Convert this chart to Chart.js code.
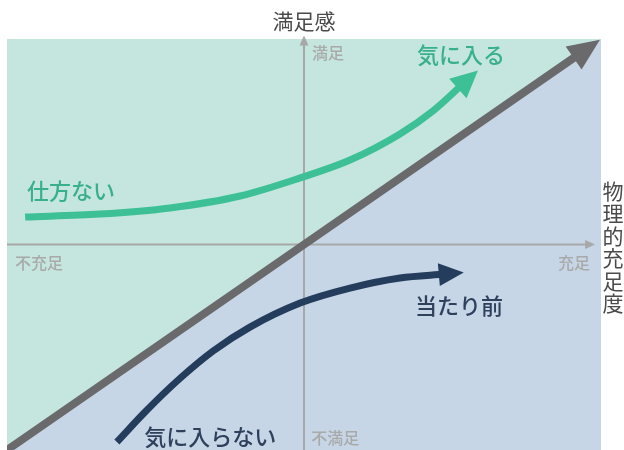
<!DOCTYPE html>
<html>
<head>
<meta charset="utf-8">
<script src="https://cdn.jsdelivr.net/npm/chart.js@4"></script>
<style>
  body { margin: 0; background: #fff; }
  canvas { display: block; }
</style>
</head>
<body>
<canvas id="kano" width="624" height="450"></canvas>
<script>
// 境界線（背景の塗り分け）
let edgeX = [-1, 1];
let edgeY = [-1, 1];

// 物理的充足度 = 満足感 の対角線
let diagX = [-1, 0.93];
let diagY = [-1, 0.93];

// 気に入る / 仕方ない
let attractX = [-0.939, -0.687, -0.451, -0.215, -0.013, 0.155, 0.323, 0.434, 0.535];
let attractY = [0.134, 0.148, 0.178, 0.236, 0.324, 0.411, 0.538, 0.65, 0.781];

// 当たり前 / 気に入らない
let mustX = [-0.63, -0.532, -0.418, -0.306, -0.182, -0.013, 0.155, 0.323, 0.475];
let mustY = [-0.961, -0.81, -0.652, -0.518, -0.402, -0.285, -0.212, -0.163, -0.144];

// 軸
let hAxisX = [-1, 0.955];
let hAxisY = [0, 0];
let vAxisX = [0, 0];
let vAxisY = [-1, 0.98];

let labels = [
    { text: '気に入る', x: 0.529, y: 0.922, align: 'center', color: '#38b08c', size: 22 },
    { text: '仕方ない', x: -0.933, y: 0.26, align: 'left', color: '#38b08c', size: 22 },
    { text: '当たり前', x: 0.522, y: -0.299, align: 'center', color: '#2d405c', size: 22 },
    { text: '気に入らない', x: -0.316, y: -0.937, align: 'center', color: '#2d405c', size: 22 },
    { text: '満足', x: 0.027, y: 0.932, align: 'left', color: '#a9a9a9', size: 16 },
    { text: '不充足', x: -0.973, y: -0.09, align: 'left', color: '#a9a9a9', size: 16 },
    { text: '充足', x: 0.963, y: -0.09, align: 'right', color: '#a9a9a9', size: 16 },
    { text: '不満足', x: 0.024, y: -0.942, align: 'left', color: '#a9a9a9', size: 16 }
];

const FONT = '"Noto Sans CJK JP", "Noto Sans", sans-serif';

function toPoints(xs, ys) {
    return xs.map(function(x, i) {
        return { x: x, y: ys[i] };
    });
}

const bgPlugin = {
    id: 'bg',
    beforeDatasetsDraw: function(chart) {
        const a = chart.chartArea;
        const ctx = chart.ctx;
        ctx.save();
        ctx.fillStyle = '#c7d6e6';
        ctx.fillRect(a.left, a.top, a.right - a.left, a.bottom - a.top);
        ctx.restore();
    }
};

const arrowPlugin = {
    id: 'arrows',
    afterDatasetsDraw: function(chart) {
        const ctx = chart.ctx;
        chart.data.datasets.forEach(function(ds, i) {
            if (!ds.arrowLen) return;
            const pts = chart.getDatasetMeta(i).data;
            const p = pts[pts.length - 1];
            let qx = pts[pts.length - 2].x, qy = pts[pts.length - 2].y;
            if (p.cp1x !== undefined && (p.cp1x !== p.x || p.cp1y !== p.y)) {
                qx = p.cp1x; qy = p.cp1y;
            }
            let dx = p.x - qx, dy = p.y - qy;
            const l = Math.sqrt(dx * dx + dy * dy);
            dx /= l; dy /= l;
            const len = ds.arrowLen, w = ds.arrowWidth / 2;
            const tipX = p.x + dx * len * 0.75, tipY = p.y + dy * len * 0.75;
            const bx = p.x - dx * len * 0.25, by = p.y - dy * len * 0.25;
            ctx.save();
            ctx.fillStyle = ds.borderColor;
            ctx.beginPath();
            ctx.moveTo(tipX, tipY);
            ctx.lineTo(bx - dy * w, by + dx * w);
            ctx.lineTo(bx + dy * w, by - dx * w);
            ctx.closePath();
            ctx.fill();
            ctx.restore();
        });
    }
};

const textPlugin = {
    id: 'texts',
    afterDraw: function(chart) {
        const ctx = chart.ctx;
        const xs = chart.scales.x, ys = chart.scales.y;
        ctx.save();
        ctx.textBaseline = 'middle';
        labels.forEach(function(lb) {
            ctx.font = '500 ' + lb.size + 'px ' + FONT;
            ctx.fillStyle = lb.color;
            ctx.textAlign = lb.align;
            ctx.fillText(lb.text, xs.getPixelForValue(lb.x), ys.getPixelForValue(lb.y));
        });
        // 縦軸タイトル
        ctx.font = '21px ' + FONT;
        ctx.fillStyle = '#4a4a4a';
        ctx.textAlign = 'center';
        ctx.fillText('満足感', xs.getPixelForValue(0), 21);
        // 横軸タイトル（縦書き）
        const chars = '物理的充足度'.split('');
        ctx.font = '21px ' + FONT;
        chars.forEach(function(c, i) {
            ctx.fillText(c, 613, 191 + i * 22.5);
        });
        ctx.restore();
    }
};

function lineSet(xs, ys, color, width, order, extra) {
    return Object.assign({
        data: toPoints(xs, ys),
        borderColor: color,
        borderWidth: width,
        pointRadius: 0,
        fill: false,
        cubicInterpolationMode: 'monotone',
        borderCapStyle: 'butt',
        order: order
    }, extra || {});
}

new Chart(document.getElementById('kano').getContext('2d'), {
    type: 'line',
    data: {
        datasets: [
            {
                data: toPoints(edgeX, edgeY),
                borderWidth: 0,
                pointRadius: 0,
                fill: 'end',
                backgroundColor: '#c5e6de',
                order: 10
            },
            lineSet(hAxisX, hAxisY, '#a8a8a8', 2, 6, { arrowLen: 10, arrowWidth: 9 }),
            lineSet(vAxisX, vAxisY, '#a8a8a8', 2, 6, { arrowLen: 10, arrowWidth: 9, cubicInterpolationMode: 'default', tension: 0 }),
            lineSet(diagX, diagY, '#6a6a6d', 8, 4, { arrowLen: 32, arrowWidth: 28 }),
            lineSet(attractX, attractY, '#3dc096', 7, 2, { arrowLen: 27, arrowWidth: 26 }),
            lineSet(mustX, mustY, '#243d5c', 7, 2, { arrowLen: 25, arrowWidth: 23 })
        ]
    },
    options: {
        responsive: false,
        animation: false,
        layout: { padding: { left: 7, right: 23, top: 39, bottom: 0 } },
        scales: {
            x: { type: 'linear', min: -1, max: 1, display: false },
            y: { type: 'linear', min: -1, max: 1, display: false }
        },
        plugins: {
            legend: { display: false },
            tooltip: { enabled: false }
        }
    },
    plugins: [bgPlugin, arrowPlugin, textPlugin]
});
</script>
</body>
</html>
